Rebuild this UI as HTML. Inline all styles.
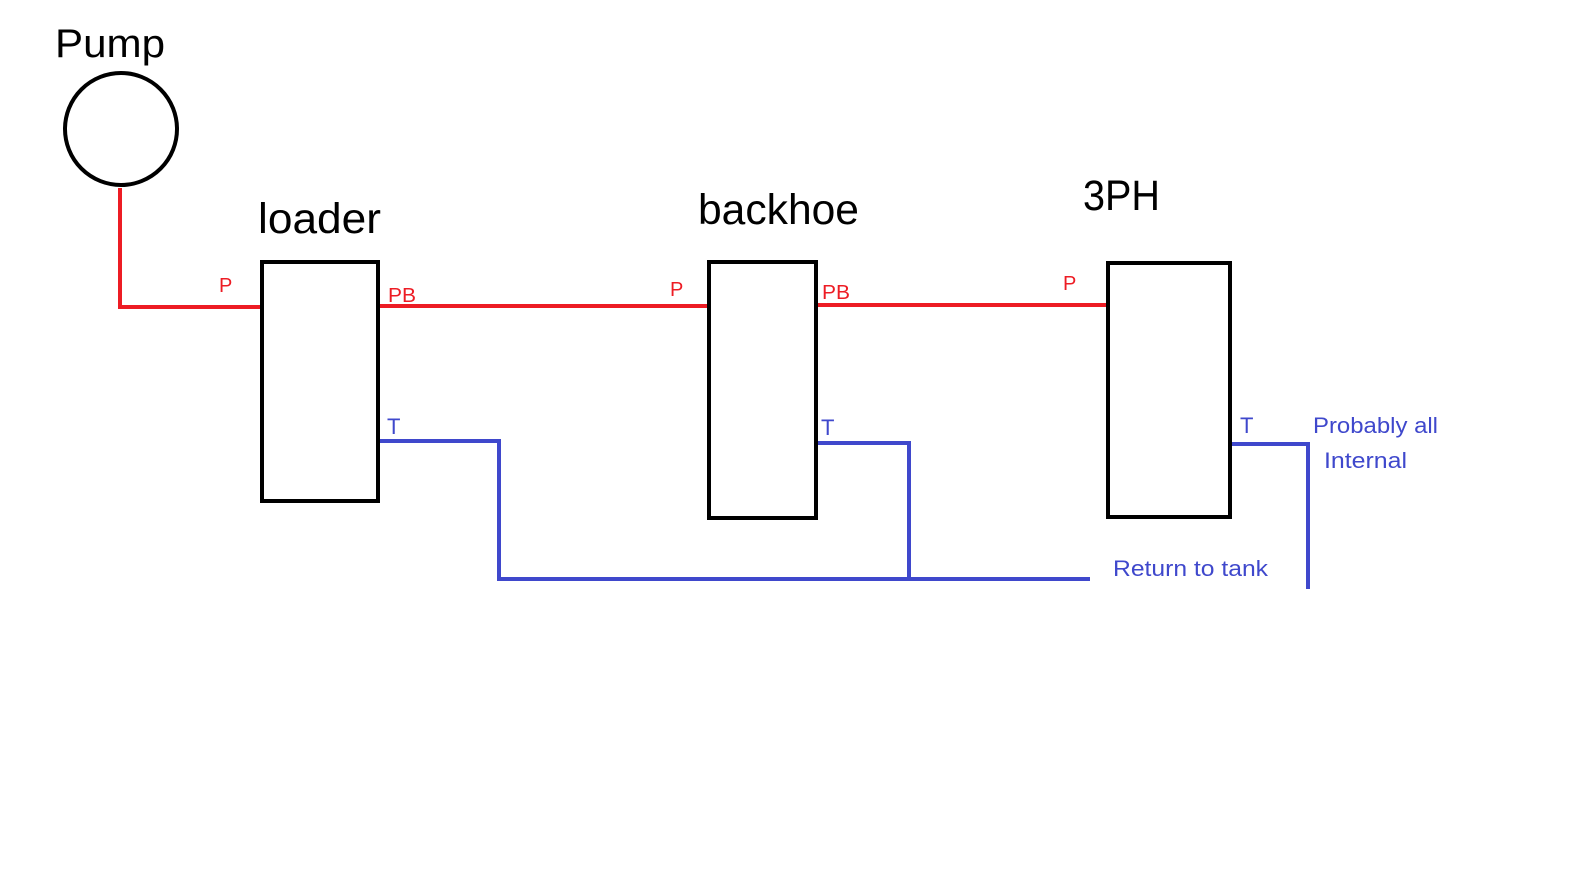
<!DOCTYPE html>
<html><head><style>
body{margin:0;background:#fff;}
svg{display:block}
text{font-family:"Liberation Sans","DejaVu Sans",sans-serif;}
</style></head><body>
<svg width="1575" height="886" viewBox="0 0 1575 886" xmlns="http://www.w3.org/2000/svg">
<rect width="1575" height="886" fill="#fff"/>
<text x="55" y="57" font-size="40" fill="#000" textLength="110" lengthAdjust="spacingAndGlyphs">Pump</text>
<circle cx="121" cy="129" r="56" fill="none" stroke="#000" stroke-width="4"/>
<text x="258" y="233" font-size="43" fill="#000" textLength="123" lengthAdjust="spacingAndGlyphs">loader</text>
<text x="698" y="224" font-size="43" fill="#000" textLength="161" lengthAdjust="spacingAndGlyphs">backhoe</text>
<text x="1083" y="210" font-size="43" fill="#000" textLength="77" lengthAdjust="spacingAndGlyphs">3PH</text>
<g fill="none" stroke="#ed1c24" stroke-width="4">
<polyline points="120,188 120,307 262,307"/>
<line x1="378" y1="306" x2="712" y2="306"/>
<line x1="816" y1="305" x2="1110" y2="305"/>
</g>
<g fill="none" stroke="#3f48cc" stroke-width="4">
<polyline points="378,441 499,441 499,579 1090,579"/>
<polyline points="816,443 909,443 909,579"/>
<polyline points="1230,444 1308,444 1308,589"/>
</g>
<g fill="#fff" stroke="#000" stroke-width="4">
<rect x="262" y="262" width="116" height="239"/>
<rect x="709" y="262" width="107" height="256"/>
<rect x="1108" y="263" width="122" height="254"/>
</g>
<g font-size="20" fill="#ed1c24">
<text x="219" y="292">P</text>
<text x="388" y="302" textLength="28" lengthAdjust="spacingAndGlyphs">PB</text>
<text x="670" y="296">P</text>
<text x="822" y="299" textLength="28" lengthAdjust="spacingAndGlyphs">PB</text>
<text x="1063" y="290">P</text>
</g>
<g font-size="22" fill="#3f48cc">
<text x="387" y="434">T</text>
<text x="821" y="435">T</text>
<text x="1240" y="433">T</text>
<text x="1313" y="433" textLength="125" lengthAdjust="spacingAndGlyphs">Probably all</text>
<text x="1324" y="468" textLength="83" lengthAdjust="spacingAndGlyphs">Internal</text>
<text x="1113" y="576" textLength="155" lengthAdjust="spacingAndGlyphs">Return to tank</text>
</g>
</svg>
</body></html>
